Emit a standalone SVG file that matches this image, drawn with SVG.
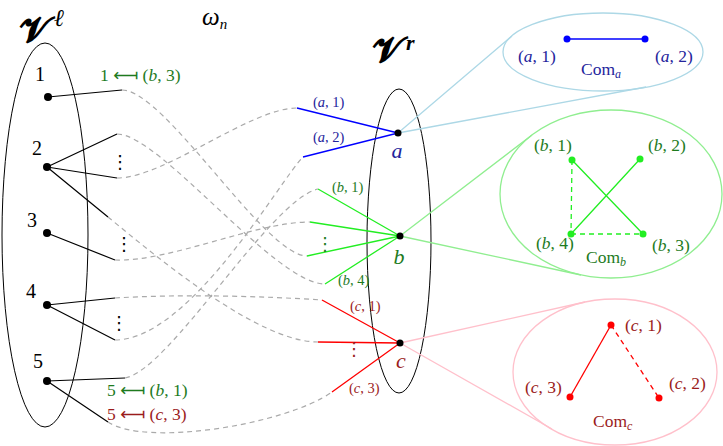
<svg xmlns="http://www.w3.org/2000/svg" width="723" height="446" viewBox="0 0 723 446">
<style>
text{font-family:"Liberation Serif","DejaVu Serif",serif;}
.num{font-size:20px;fill:#000}
.it{font-style:italic}
.gt{fill:#1e7b1e}.bt{fill:#24249c}.rt{fill:#9b1c1c}
.sm{font-size:14.5px}
.md{font-size:17.5px}
.big{font-size:22px}
.ar{font-family:"DejaVu Sans",sans-serif}
.vd{font-family:"DejaVu Sans",sans-serif;font-size:18px}
.scr{font-family:"DejaVu Serif",serif;font-size:36px;font-weight:bold}
.blk{stroke:#000;stroke-width:1.2;fill:none}
.dash{stroke:#aaa;stroke-width:1.2;fill:none;stroke-dasharray:5 4}
.bl{stroke:#0000ff;stroke-width:1.3;fill:none}
.gl{stroke:#22ee22;stroke-width:1.3;fill:none}
.rl{stroke:#ff0000;stroke-width:1.3;fill:none}
.set{stroke:#000;stroke-width:1;fill:none}
</style>

<!-- set labels -->
<g id="label-Vl">
<text class="scr" x="20" y="43">𝓥<tspan dx="4" dy="-17" style="font-family:'Liberation Serif','DejaVu Serif',serif;font-size:24px;font-weight:normal;font-style:italic">ℓ</tspan></text>
</g>
<g id="label-omega"><text x="202" y="25" class="it" style="font-size:25px">ω<tspan dy="4" style="font-size:15px">n</tspan></text></g>
<g id="label-Vr">
<text class="scr" x="373" y="63">𝓥<tspan dx="3" dy="-13" style="font-family:'Liberation Serif','DejaVu Serif',serif;font-size:22px;font-style:italic">r</tspan></text>
</g>

<g id="set-left"><ellipse class="set" cx="45" cy="235" rx="43" ry="192"/></g>
<g id="set-right"><ellipse class="set" cx="399" cy="241" rx="32" ry="152"/></g>

<!-- connectors -->
<g id="connectors">
<path class="blk" d="M48 97L122 90M47 167L117 134M47 167L117 178M47 167L108 217M47 233L115 260M47 305L115 298M47 305L115 340M47 381L125 378M47 381L108 422"/>
<path class="dash" d="M122 90C165 90 265 256 307 256"/>
<path class="dash" d="M117 134C160 134 275 284 325 284"/>
<path class="dash" d="M117 178C165 178 250 108 297 108"/>
<path class="dash" d="M108 217C158 258 258 342 318 342"/>
<path class="dash" d="M115 260C170 262 255 222 310 222"/>
<path class="dash" d="M115 298C180 294 260 296 322 300"/>
<path class="dash" d="M115 340C190 340 280 180 303 157"/>
<path class="dash" d="M125 378C170 370 270 200 318 189"/>
<path class="dash" d="M108 422C145 447 285 425 332 392"/>
<path class="bl" d="M398 133L297 108M398 133L303 157"/>
<path class="gl" d="M400 236L318 189M400 236L310 222M400 236L307 256M400 236L325 284"/>
<path class="rl" d="M400 343L322 300M400 343L318 342M400 343L332 392"/>
<path d="M398 133L512 36M398 133L646 87" stroke="#add8e6" stroke-width="1.3" fill="none"/>
<path d="M400 236L532 135M400 236L581 275" stroke="#90ee90" stroke-width="1.3" fill="none"/>
<path d="M400 343L585 302M400 343L552 429" stroke="#ffc0cb" stroke-width="1.3" fill="none"/>
</g>

<!-- left nodes -->
<g id="node-1"><circle cx="48" cy="97" r="4"/><text class="num" x="40" y="81" text-anchor="middle">1</text></g>
<g id="node-2"><circle cx="47" cy="167" r="4"/><text class="num" x="37" y="155" text-anchor="middle">2</text></g>
<g id="node-3"><circle cx="47" cy="233" r="4"/><text class="num" x="32" y="227" text-anchor="middle">3</text></g>
<g id="node-4"><circle cx="47" cy="305" r="4"/><text class="num" x="31" y="298" text-anchor="middle">4</text></g>
<g id="node-5"><circle cx="47" cy="381" r="4"/><text class="num" x="38" y="368" text-anchor="middle">5</text></g>

<g id="vdots-left">
<text class="vd" x="120" y="168" text-anchor="middle">⋮</text>
<text class="vd" x="124" y="250" text-anchor="middle">⋮</text>
<text class="vd" x="119" y="329" text-anchor="middle">⋮</text>
</g>

<g id="assign-labels">
<text class="md gt" x="100" y="81">1 <tspan class="ar">⟻</tspan> (<tspan class="it">b</tspan>, 3)</text>
<text class="md gt" x="107" y="396">5 <tspan class="ar">⟻</tspan> (<tspan class="it">b</tspan>, 1)</text>
<text class="md rt" x="107" y="420">5 <tspan class="ar">⟻</tspan> (<tspan class="it">c</tspan>, 3)</text>
</g>

<!-- right nodes -->
<g id="node-a">
<circle cx="398" cy="133" r="3.5"/>
<text class="big bt it" x="397" y="158" text-anchor="middle">a</text>
<text class="sm bt" x="313" y="107">(<tspan class="it">a</tspan>, 1)</text>
<text class="sm bt" x="313" y="142">(<tspan class="it">a</tspan>, 2)</text>
</g>
<g id="node-b">
<circle cx="400" cy="236" r="3.5"/>
<text class="big gt it" x="399" y="264" text-anchor="middle">b</text>
<text class="sm gt" x="332" y="192">(<tspan class="it">b</tspan>, 1)</text>
<text class="sm gt" x="338" y="285">(<tspan class="it">b</tspan>, 4)</text>
<text class="vd gt" x="325" y="250" text-anchor="middle">⋮</text>
</g>
<g id="node-c">
<circle cx="400" cy="343" r="3.5"/>
<text class="big rt it" x="401" y="368" text-anchor="middle">c</text>
<text class="sm rt" x="350" y="311">(<tspan class="it">c</tspan>, 1)</text>
<text class="sm rt" x="349" y="393">(<tspan class="it">c</tspan>, 3)</text>
<text class="vd rt" x="354" y="355" text-anchor="middle">⋮</text>
</g>

<!-- communities -->
<g id="com-a">
<ellipse cx="603" cy="52" rx="100" ry="39" fill="none" stroke="#add8e6" stroke-width="1.3"/>
<line x1="567" y1="39" x2="645" y2="39" class="bl"/>
<circle cx="567" cy="39" r="3.5" fill="#0000ff"/>
<circle cx="645" cy="39" r="3.5" fill="#0000ff"/>
<text class="md bt" x="518" y="62">(<tspan class="it">a</tspan>, 1)</text>
<text class="md bt" x="655" y="62">(<tspan class="it">a</tspan>, 2)</text>
<text class="md bt" x="581" y="75">Com<tspan class="it" dy="3" style="font-size:12px">a</tspan></text>
</g>
<g id="com-b">
<ellipse cx="611" cy="194" rx="111" ry="84" fill="none" stroke="#90ee90" stroke-width="1.3"/>
<path class="gl" d="M572 160L643 234M640 159L571 234"/>
<path class="gl" stroke-dasharray="5 4" d="M572 160L571 234M571 234L643 234"/>
<circle cx="572" cy="160" r="3.5" fill="#22ee22"/>
<circle cx="640" cy="159" r="3.5" fill="#22ee22"/>
<circle cx="571" cy="234" r="3.5" fill="#22ee22"/>
<circle cx="643" cy="234" r="3.5" fill="#22ee22"/>
<text class="md gt" x="534" y="151">(<tspan class="it">b</tspan>, 1)</text>
<text class="md gt" x="648" y="151">(<tspan class="it">b</tspan>, 2)</text>
<text class="md gt" x="536" y="249">(<tspan class="it">b</tspan>, 4)</text>
<text class="md gt" x="652" y="251">(<tspan class="it">b</tspan>, 3)</text>
<text class="md gt" x="586" y="263">Com<tspan class="it" dy="3" style="font-size:12px">b</tspan></text>
</g>
<g id="com-c">
<ellipse cx="615" cy="372" rx="102" ry="73" fill="none" stroke="#ffc0cb" stroke-width="1.3"/>
<path class="rl" d="M611 325L570 397"/>
<path class="rl" stroke-dasharray="5 4" d="M611 325L659 398"/>
<circle cx="611" cy="325" r="3.5" fill="#ff0000"/>
<circle cx="570" cy="397" r="3.5" fill="#ff0000"/>
<circle cx="659" cy="398" r="3.5" fill="#ff0000"/>
<text class="md rt" x="625" y="331">(<tspan class="it">c</tspan>, 1)</text>
<text class="md rt" x="525" y="393">(<tspan class="it">c</tspan>, 3)</text>
<text class="md rt" x="669" y="389">(<tspan class="it">c</tspan>, 2)</text>
<text class="md rt" x="593" y="427">Com<tspan class="it" dy="3" style="font-size:12px">c</tspan></text>
</g>
</svg>
